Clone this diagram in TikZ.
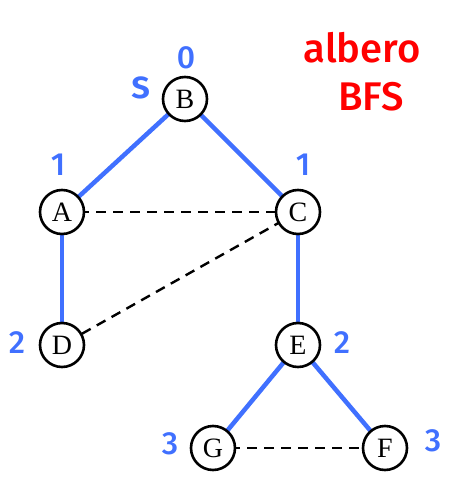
\documentclass[tikz,border=0pt]{standalone}
\usepackage{fontspec}
\setmainfont{Liberation Serif}
\newfontfamily\lblfont{Fira Sans Medium}
\definecolor{bblue}{RGB}{64,112,255}
\begin{document}
\begin{tikzpicture}[x=1pt,y=-1pt,
  vtx/.style={circle,draw=black,line width=2.6pt,fill=white,minimum size=44pt,inner sep=0pt,font=\fontsize{28}{28}\selectfont},
  tree/.style={draw=bblue,line width=4.5pt},
  nontree/.style={draw=black,line width=2.4pt,dash pattern=on 10pt off 7pt},
  lbl/.style={text=bblue,font=\lblfont\fontsize{32}{32}\selectfont,inner sep=0pt}]
\useasboundingbox (0,0) rectangle (472,492);
\coordinate (pB) at (185,99);
\coordinate (pA) at (62,212);
\coordinate (pC) at (298,212);
\coordinate (pD) at (62,345);
\coordinate (pE) at (298,345);
\coordinate (pG) at (213,448);
\coordinate (pF) at (385,448);
\path[tree] (pB) -- (pA);
\path[tree] (pB) -- (pC);
\path[tree] (pA) -- (pD);
\path[tree] (pC) -- (pE);
\path[tree] (pE) -- (pG);
\path[tree] (pE) -- (pF);
\path[nontree] (pA) -- (pC);
\path[nontree] (pC) -- (pD);
\path[nontree] (pG) -- (pF);
\node[vtx] (B) at (pB) {B};
\node[vtx] (A) at (pA) {A};
\node[vtx] (C) at (pC) {C};
\node[vtx] (D) at (pD) {D};
\node[vtx] (E) at (pE) {E};
\node[vtx] (G) at (pG) {G};
\node[vtx] (F) at (pF) {F};
\node[lbl] (l0) at (186,58) {0};
\node[lbl,font=\lblfont\fontsize{40}{40}\selectfont] (ls) at (141,88) {s};
\node[lbl] (lA) at (58,165) {1};
\node[lbl] (lC) at (303,165) {1};
\node[lbl] (lD) at (17,343) {2};
\node[lbl] (lE) at (342,343) {2};
\node[lbl] (lG) at (170,444) {3};
\node[lbl] (lF) at (433,441) {3};
\node[text=red,font=\lblfont\fontsize{40}{40}\selectfont,inner sep=0pt] (t1) at (362,48) {albero};
\node[text=red,font=\lblfont\fontsize{40}{40}\selectfont,inner sep=0pt] (t2) at (371,97) {BFS};
\end{tikzpicture}
\end{document}
